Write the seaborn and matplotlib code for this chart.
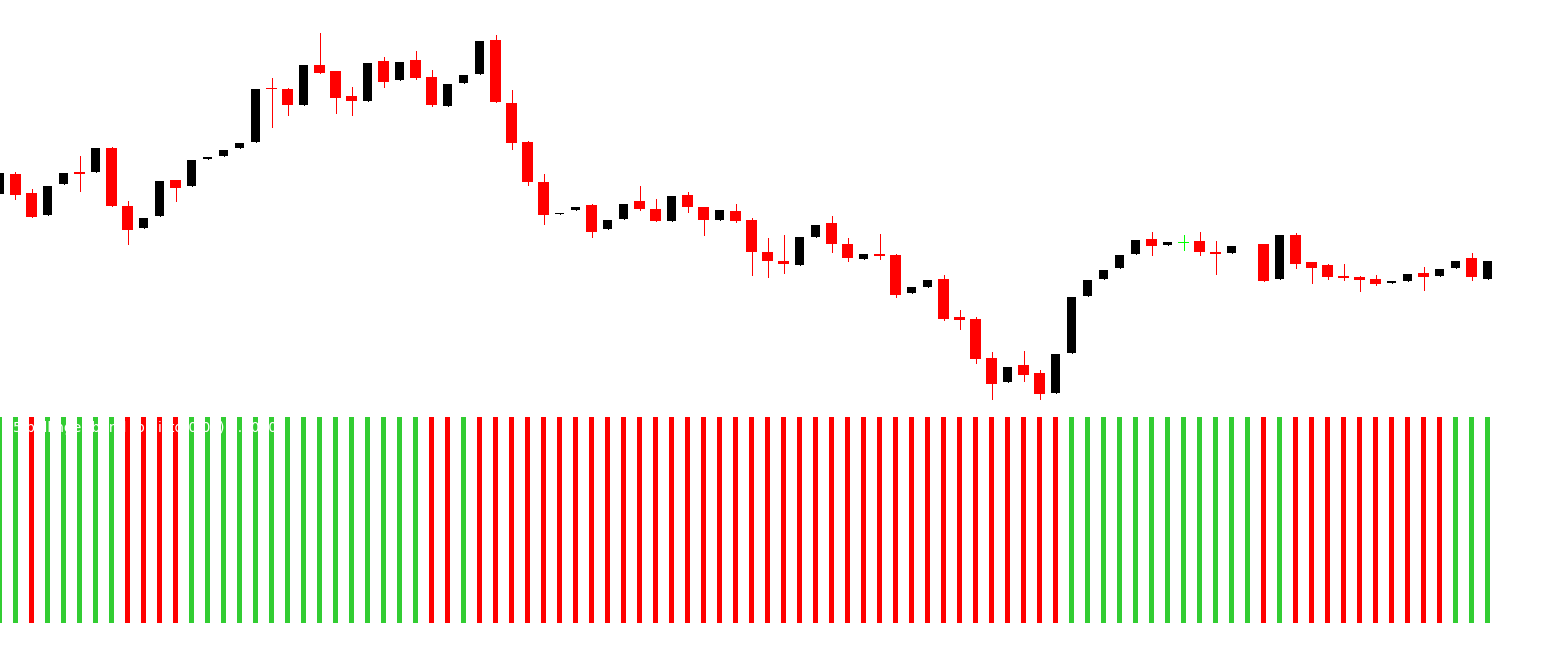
import matplotlib
matplotlib.use("Agg")
import numpy as np
import pandas as pd
import matplotlib.pyplot as plt
import seaborn as sns

# ---------------- data ----------------
bar_index = list(range(-1, 93))

open_ = [306, 326, 307, 285, 316, 328, 328, 352, 294, 272,
         284, 320, 314, 341.5, 344, 352, 358, 412, 411, 395,
         435, 429, 404, 399, 439, 420, 440, 423, 394, 417,
         426, 460, 397, 358, 318, 286, 290, 295, 271, 281,
         299, 291, 279, 305, 293, 280, 289, 280, 248, 239,
         235, 263, 277, 256, 241, 246, 245, 207, 213, 221,
         183, 181, 142, 118, 135, 127, 107, 147, 204, 221,
         232, 246, 261, 255, 257.5, 259, 248, 247, np.nan, 256,
         221, 265, 238, 235, 224, 223, 221, 217, 219, 227,
         224, 232, 242, 221]
close = [327, 305, 283, 314, 327, 326, 352, 294, 270, 282,
         319, 312, 340, 343, 350, 357, 411, 411, 395, 435,
         427, 402, 399, 437, 418, 438, 422, 395, 416, 425,
         459, 398, 357, 318, 285, 287, 293, 268, 280, 296,
         291, 279, 304, 293, 280, 290, 279, 248, 239, 236,
         263, 275, 256, 242, 246, 244, 205, 213, 220, 181,
         180, 141, 116, 133, 125, 106, 146, 203, 220, 230,
         245, 260, 254, 258, 257.5, 248, 246, 254, np.nan, 219,
         265, 236, 232, 223, 222, 220, 216, 219, 226, 223,
         231, 239, 223, 239]
high = [327, 328, 311, 314, 327, 344, 352, 353, 299, 282,
        319, 320, 340, 343, 350, 357, 411, 422, 412, 435,
        467, 429, 413, 437, 443, 438, 449, 430, 416, 425,
        459, 465, 410, 359, 326, 287, 293, 296, 280, 296,
        314, 301, 304, 308, 293, 290, 296, 282, 262, 265,
        263, 275, 284, 262, 246, 266, 246, 213, 220, 225,
        190, 183, 148, 133, 149, 130, 146, 203, 220, 230,
        245, 260, 268, 258, 265, 268, 259, 254, np.nan, 256,
        265, 267, 238, 236, 236, 224, 225, 219, 226, 233,
        231, 239, 247, 239]
low = [306, 301, 283, 285, 316, 309, 328, 294, 256, 272,
       284, 299, 314, 341.5, 344, 352, 358, 373, 385, 395,
       427, 387, 385, 399, 413, 420, 421, 394, 394, 417,
       426, 398, 351, 315, 276, 286, 290, 263, 271, 281,
       290, 279, 279, 288, 265, 280, 278, 225, 223, 227,
       235, 263, 248, 239, 241, 241, 203, 207, 213, 180,
       171, 137, 101, 118, 119, 101, 107, 147, 204, 221,
       232, 246, 245, 255, 250, 245, 226, 247, np.nan, 219,
       221, 232, 217, 221, 220, 209, 215, 217, 219, 210,
       224, 232, 220, 221]

# histogram signal per bar: g = up (green), r = down (red)
signal = list("gg" "r" "ggggg" "rrrr" "ggggg" "ggggg" "ggggg" "rr" "g"
              "rrrrrrrrrr" "rrrrrrrrrr" "rrrrrrrrrr" "rrrrrrr"
              "gggggggggggg" "r" "g" "rrrrrrrrrr" "ggg")

label_text = "5 bollinger band to histo(0.00) 1.0000"

# ---------------- style ----------------
sns.set_theme(style="white")
plt.rcParams['font.family'] = ['DejaVu Sans']

W, H = 1542, 646
fig = plt.figure(figsize=(W / 100, H / 100), dpi=100)
fig.patch.set_facecolor("white")

ax = fig.add_axes([0, (H - 400) / H, 1, 400 / H])
ax2 = fig.add_axes([0, (H - 623) / H, 1, 206 / H])

xlim = (-15.5 / 16, (W - 15.5) / 16)

# ---------------- candles ----------------
df = pd.DataFrame({"k": bar_index, "open": open_, "close": close,
                   "high": high, "low": low}).dropna()
RED, BLACK, GREEN = "#ff0000", "#000000", "#00ff00"
px = 1 / 16  # one pixel in x data units
for _, r in df.iterrows():
    if r.close > r.open:
        col, w = BLACK, 9 * px
    elif r.close < r.open:
        col, w = RED, 11 * px
    else:
        col, w = GREEN, 11 * px
    ax.vlines(r.k, r.low, r.high, color=col, lw=0.72, antialiased=False, zorder=2)
    lo = min(r.open, r.close)
    h = max(abs(r.close - r.open), 1.2)
    ax.bar(r.k, h, bottom=lo - (0.6 if r.close == r.open else 0), width=w,
           color=col, linewidth=0, antialiased=False, zorder=3)

ax.set_xlim(*xlim)
ax.set_ylim(100, 500)
ax.axis("off")

# ---------------- histogram ----------------
hist = pd.DataFrame({"k": bar_index, "value": [1.0] * len(bar_index),
                     "signal": signal})
sns.barplot(data=hist, x="k", y="value", hue="signal", native_scale=True,
            palette={"g": "#32cd32", "r": "#ff0000"}, width=5 / 16,
            dodge=False, saturation=1, errorbar=None, legend=False,
            linewidth=0, ax=ax2)
for p in ax2.patches:
    p.set_antialiased(False)
ax2.set_xlim(*xlim)
ax2.set_ylim(0, 1)
ax2.axis("off")
ax2.text(13 / W, (623 - 428) / 206, label_text, transform=ax2.transAxes,
         color="white", fontsize=10, va="center", ha="left", zorder=5)

fig.savefig("out.png", dpi=100, facecolor="white")
